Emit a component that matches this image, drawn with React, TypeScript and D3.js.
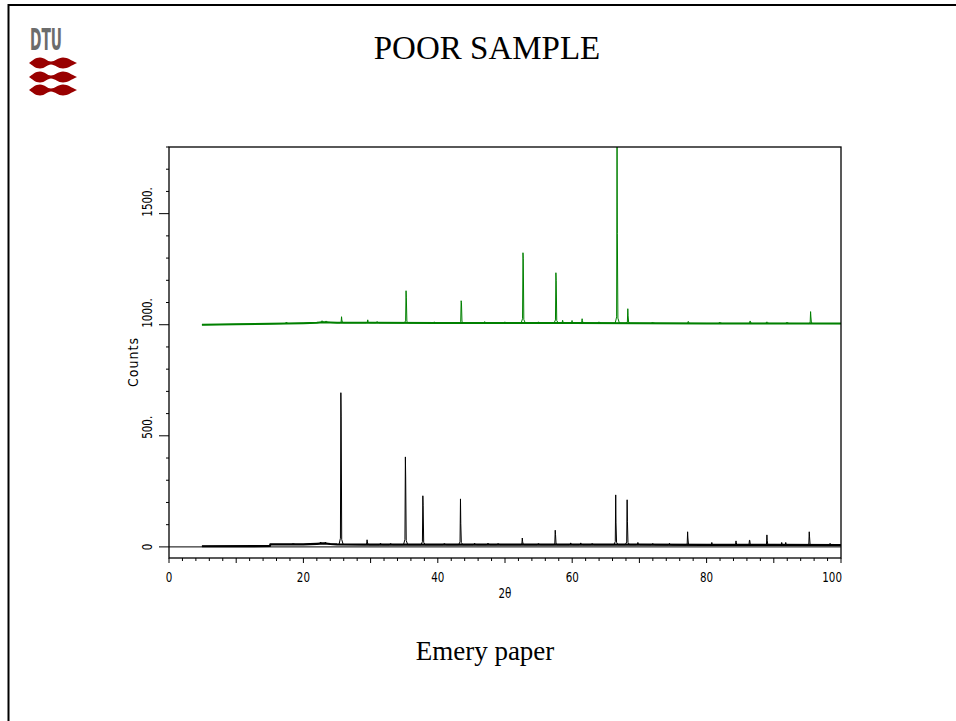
import React from 'react';
import * as d3 from 'd3';

const W = 956;
const H = 721;

// ---- axis ticks ----
const xMajorTicks = [0, 20, 40, 60, 80, 100];
const xTickLabels = ['0', '20', '40', '60', '80', '100'];
const yMajorTicks = [0, 500, 1000, 1500];
const yTickLabels = ['0', '500.', '1000.', '1500.'];

// ---- black pattern (lower) : background + peaks ----
const blackBgX = [4.9, 15, 15.1, 20, 22, 23, 24, 25, 30, 40, 50, 60, 70, 80, 90, 100];
const blackBgY = [3, 4, 11, 11, 14, 16, 13, 11, 10, 10, 10, 10, 10, 9, 9, 8];
const blackPeakPos = [18.5, 22.6, 23.3, 25.6, 29.5, 31.5, 33.0, 35.2, 37.8, 41.0, 43.4, 45.5, 47.5, 49.0, 52.6, 55.0, 57.5, 59.8, 61.3, 63.0, 66.5, 68.2, 69.8, 72.0, 74.5, 77.2, 80.8, 84.4, 86.4, 89.0, 91.2, 91.8, 95.3, 98.4];
const blackPeakTop = [15, 22, 21, 694, 32, 16, 15, 405, 230, 15, 216, 16, 17, 15, 40, 15, 75, 18, 18, 15, 234, 212, 20, 15, 16, 68, 20, 27, 30, 54, 20, 20, 68, 16];
const blackPeakShoulder = [12, 18, 17, 585, 22, 13, 12, 315, 185, 12, 105, 13, 14, 12, 25, 12, 55, 15, 14, 12, 108, 113, 16, 12, 13, 40, 16, 18, 30, 30, 16, 16, 45, 12];

// ---- green pattern (upper, offset) : background + peaks ----
const greenBgX = [4.9, 10, 15, 20, 22, 23, 24, 25, 30, 40, 50, 60, 70, 80, 90, 100];
const greenBgY = [1000, 1002, 1004, 1007, 1009, 1011, 1010, 1009, 1009, 1008, 1008, 1008, 1007, 1006, 1006, 1005];
const greenPeakPos = [17.5, 22.8, 23.4, 25.7, 29.6, 31.0, 35.3, 39.5, 43.5, 47.0, 50.0, 52.7, 55.0, 57.6, 58.6, 60.0, 61.5, 64.0, 66.7, 68.3, 72.0, 77.3, 82.0, 86.5, 89.0, 92.0, 95.5];
const greenPeakTop = [1012, 1018, 1017, 1036, 1022, 1014, 1153, 1013, 1108, 1014, 1013, 1324, 1013, 1234, 1020, 1019, 1027, 1013, 1860, 1072, 1012, 1015, 1012, 1017, 1013, 1012, 1059];
const greenPeakShoulder = [1010, 1014, 1014, 1022, 1015, 1011, 1121, 1010, 1099, 1011, 1010, 1297, 1010, 1200, 1015, 1015, 1018, 1010, 1410, 1040, 1010, 1010, 1010, 1012, 1010, 1010, 1035];

// ---- layout ----
const PL = 169, PR = 841, PT = 147, PB = 558;

function buildProfile(bgX: number[], bgY: number[], pos: number[], top: number[], sh: number[]) {
  const bg = d3.scaleLinear().domain(bgX).range(bgY);
  const windows = pos.map(p => [p - 0.3, p + 0.32]);
  const pts: [number, number][] = [];
  bgX.forEach((x, i) => {
    if (!windows.some(w => x >= w[0] && x <= w[1])) pts.push([x, bgY[i]]);
  });
  pos.forEach((p, i) => {
    const b = bg(p);
    const h = top[i] - b;
    const tent = Math.max(2, Math.min(28, h * 0.06));
    pts.push([p - 0.3, b], [p - 0.09, b + tent], [p - 0.025, top[i]], [p + 0.02, sh[i]], [p + 0.1, b + tent * 0.8], [p + 0.32, b]);
  });
  pts.sort((a, b) => a[0] - b[0]);
  return pts;
}

function Logo() {
  const rows = [63, 77, 90];
  return (
    <g>
      <text x={30} y={50} fontFamily="'DejaVu Sans Condensed', 'DejaVu Sans', sans-serif" fontWeight="bold" fontSize={31}
        fill="#6c6c6c" textLength={32} lengthAdjust="spacingAndGlyphs">DTU</text>
      {rows.map(cy => (
        <path key={cy} fill="#990000"
          d={`M29,${cy} C33,${cy - 2.5} 35,${cy - 5.5} 40,${cy - 5.5} C45,${cy - 5.5} 47,${cy - 1.5} 51,${cy - 1.5} C55,${cy - 1.5} 58,${cy - 5.5} 63,${cy - 5.5} C68,${cy - 5.5} 71,${cy - 2.5} 77,${cy} C71,${cy + 2.5} 68,${cy + 5.5} 63,${cy + 5.5} C58,${cy + 5.5} 55,${cy + 1.5} 51,${cy + 1.5} C47,${cy + 1.5} 45,${cy + 5.5} 40,${cy + 5.5} C35,${cy + 5.5} 33,${cy + 2.5} 29,${cy} Z`} />
      ))}
    </g>
  );
}

const axisFont = "'DejaVu Sans Condensed', 'DejaVu Sans', sans-serif";

export default function App() {
  const x = d3.scaleLinear().domain([0, 100]).range([PL, PR]);
  const y = d3.scaleLinear().domain([-50, 1800]).range([PB, PT]);

  const line = d3.line<[number, number]>().x(d => x(d[0])).y(d => y(d[1]));

  const black = buildProfile(blackBgX, blackBgY, blackPeakPos, blackPeakTop, blackPeakShoulder);
  const green = buildProfile(greenBgX, greenBgY, greenPeakPos, greenPeakTop, greenPeakShoulder);
  const blackBg = blackBgX.map((v, i) => [v, blackBgY[i]] as [number, number]);
  const greenBg = greenBgX.map((v, i) => [v, greenBgY[i]] as [number, number]);

  const xMinor = d3.range(0, 101, 2);
  const yMinor = d3.range(0, 1801, 100);

  return (
    <svg width={W} height={H} style={{ position: 'absolute', left: 0, top: 0, background: '#fff' }}>
      <rect x={0} y={0} width={W} height={H} fill="#fff" />
      {/* slide frame */}
      <line x1={8.5} y1={5} x2={W} y2={5} stroke="#000" strokeWidth={2} />
      <line x1={8.5} y1={4} x2={8.5} y2={H} stroke="#000" strokeWidth={2} />
      <Logo />
      <text x={487} y={59} textAnchor="middle" fontFamily="'Liberation Serif', 'Times New Roman', serif" fontSize={33}>POOR SAMPLE</text>
      <text x={485} y={660} textAnchor="middle" fontFamily="'Liberation Serif', 'Times New Roman', serif" fontSize={27}>Emery paper</text>

      <defs>
        <clipPath id="plotclip">
          <rect x={PL} y={PT} width={PR - PL} height={PB - PT} />
        </clipPath>
      </defs>

      {/* zero line */}
      <line x1={PL} x2={PR} y1={y(0)} y2={y(0)} stroke="#000" strokeWidth={1} />

      <g clipPath="url(#plotclip)">
        <path d={line(blackBg) || ''} fill="none" stroke="#000" strokeWidth={2.2} />
        <path d={line(black) || ''} fill="none" stroke="#000" strokeWidth={1} />
        <path d={line(greenBg) || ''} fill="none" stroke="#008000" strokeWidth={2} />
        <path d={line(green) || ''} fill="none" stroke="#008000" strokeWidth={1} />
      </g>

      {/* plot box */}
      <rect x={PL} y={PT} width={PR - PL} height={PB - PT} fill="none" stroke="#000" strokeWidth={1.3} />

      {/* x ticks */}
      {xMinor.map(v => (
        <line key={'xm' + v} x1={x(v)} x2={x(v)} y1={PB} y2={PB + (v % 10 === 0 ? 5 : 3)} stroke="#000" strokeWidth={1} />
      ))}
      {xMajorTicks.map((v, i) => (
        <g key={'xl' + v} transform={`translate(${x(v) + (i === xMajorTicks.length - 1 ? 1 : 0)},${PB + 24}) scale(0.82,1)`}>
          <text textAnchor={i === xMajorTicks.length - 1 ? 'end' : 'middle'}
            fontFamily={axisFont} fontSize={14}>{xTickLabels[i]}</text>
        </g>
      ))}
      <g transform={`translate(${(PL + PR) / 2},${PB + 40}) scale(0.82,1)`}>
        <text textAnchor="middle" fontFamily={axisFont} fontSize={14}>2θ</text>
      </g>

      {/* y ticks */}
      {yMinor.map(v => (
        <line key={'ym' + v} x1={PL - (v % 500 === 0 ? 10 : 3)} x2={PL} y1={y(v)} y2={y(v)} stroke="#000" strokeWidth={1} />
      ))}
      {yMajorTicks.map((v, i) => (
        <g key={'yl' + v} transform={`translate(${PL - 17},${y(v) + (i === 0 ? 0 : 3)}) rotate(-90) scale(0.82,1)`}>
          <text textAnchor={i === 0 ? 'middle' : 'start'} fontFamily={axisFont} fontSize={14}>{yTickLabels[i]}</text>
        </g>
      ))}
      <g transform={`translate(${PL - 31},${362}) rotate(-90)`}>
        <text textAnchor="middle" fontFamily={axisFont} fontSize={14} letterSpacing={1}>Counts</text>
      </g>
    </svg>
  );
}
